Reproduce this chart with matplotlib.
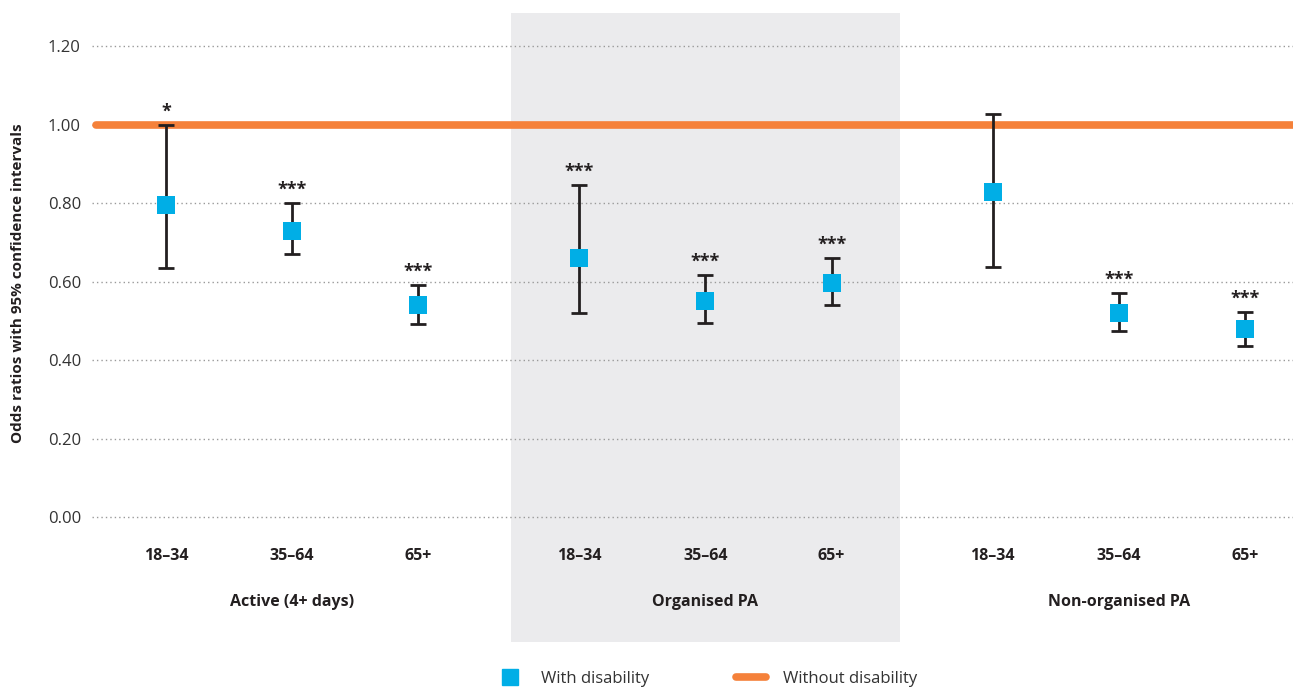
import numpy as np
import matplotlib.pyplot as plt
from matplotlib.lines import Line2D

plt.rcParams['font.family'] = ['Open Sans', 'DejaVu Sans']

# datos
grupos = ["Active (4+ days)", "Organised PA", "Non-organised PA"]
edades = ["18–34", "35–64", "65+"]
odds = [0.795, 0.728, 0.540, 0.660, 0.550, 0.597, 0.828, 0.520, 0.480]
ic_bajo = [0.635, 0.670, 0.492, 0.520, 0.494, 0.540, 0.637, 0.475, 0.435]
ic_alto = [1.000, 0.800, 0.592, 0.846, 0.617, 0.660, 1.026, 0.571, 0.522]
signif = ["*", "***", "***", "***", "***", "***", "", "***", "***"]
y_ticks = [0.0, 0.2, 0.4, 0.6, 0.8, 1.0, 1.2]
referencia = 1.0

AZUL = "#00aee6"
NARANJA = "#f5813a"
NEGRO = "#231f20"
GRIS_TXT = "#333333"

# posiciones x: 3 grupos de 3 edades
sep_grupo = 3.18
paso = 0.97
xs = np.array([g * sep_grupo + i * paso for g in range(len(grupos)) for i in range(len(edades))])

fig = plt.figure(figsize=(12.93, 6.89), dpi=100)
ax = fig.add_axes([92 / 1293, 47 / 689, 1 - 92 / 1293, 629 / 689])

xmin, xmax = -0.57, 8.67
ax.set_xlim(xmin, xmax)
ax.set_ylim(-0.318, 1.284)

# sombreado del grupo central
centro = 1 * sep_grupo + paso
ax.axvspan(centro - 1.5, centro + 1.5, color="#ebebed", zorder=0, lw=0)

# rejilla punteada
ax.hlines(y_ticks, xmin, xmax, colors="#9a9a9a", linestyles=(0, (1, 2.2)), lw=1, zorder=1)

# linea de referencia
ax.plot([xmin + 0.03, xmax + 0.2], [referencia, referencia], color=NARANJA, lw=5.5,
        solid_capstyle="round", zorder=2, clip_on=False)

# barras de error y puntos
err = [np.array(odds) - np.array(ic_bajo), np.array(ic_alto) - np.array(odds)]
ax.errorbar(xs, odds, yerr=err, fmt="none", ecolor=NEGRO, elinewidth=2, capsize=5.5,
            capthick=2, zorder=3)
ax.scatter(xs, odds, marker="s", s=150, color=AZUL, zorder=4, linewidths=0)

for x, top, s in zip(xs, ic_alto, signif):
    if s:
        ax.annotate(s, (x, top), xytext=(0, 3), textcoords="offset points",
                    ha="center", va="bottom", fontsize=13, fontweight="bold", color=NEGRO)

# etiquetas de edad y grupo
for x, e in zip(xs, edades * len(grupos)):
    ax.text(x, -0.10, e, ha="center", va="center", fontsize=11.5, fontweight="bold", color=NEGRO)
for g, nombre in enumerate(grupos):
    ax.text(g * sep_grupo + paso, -0.215, nombre, ha="center", va="center", fontsize=11.5,
            fontweight="bold", color=NEGRO)

ax.set_yticks(y_ticks)
ax.set_yticklabels([f"{v:.2f}" for v in y_ticks], fontsize=12, color=GRIS_TXT)
ax.tick_params(axis="y", length=0, pad=8)
ax.set_xticks([])
for sp in ax.spines.values():
    sp.set_visible(False)
ax.patch.set_visible(False)

fig.text(18 / 1293, 1 - 283 / 689, "Odds ratios with 95% confidence intervals", rotation=90,
         ha="center", va="center", fontsize=11, fontweight="bold", color=NEGRO)

handles = [
    Line2D([], [], marker="s", color=AZUL, linestyle="none", markersize=12),
    Line2D([], [], color=NARANJA, lw=5.5, solid_capstyle="round"),
]
fig.legend(handles, ["With disability", "Without disability"], loc="center",
           bbox_to_anchor=(706 / 1293, 1 - 679 / 689), ncol=2, frameon=False,
           fontsize=12, labelcolor=GRIS_TXT, columnspacing=5.2, handlelength=1.8,
           handletextpad=1.0)

fig.savefig("out.png", dpi=100)
